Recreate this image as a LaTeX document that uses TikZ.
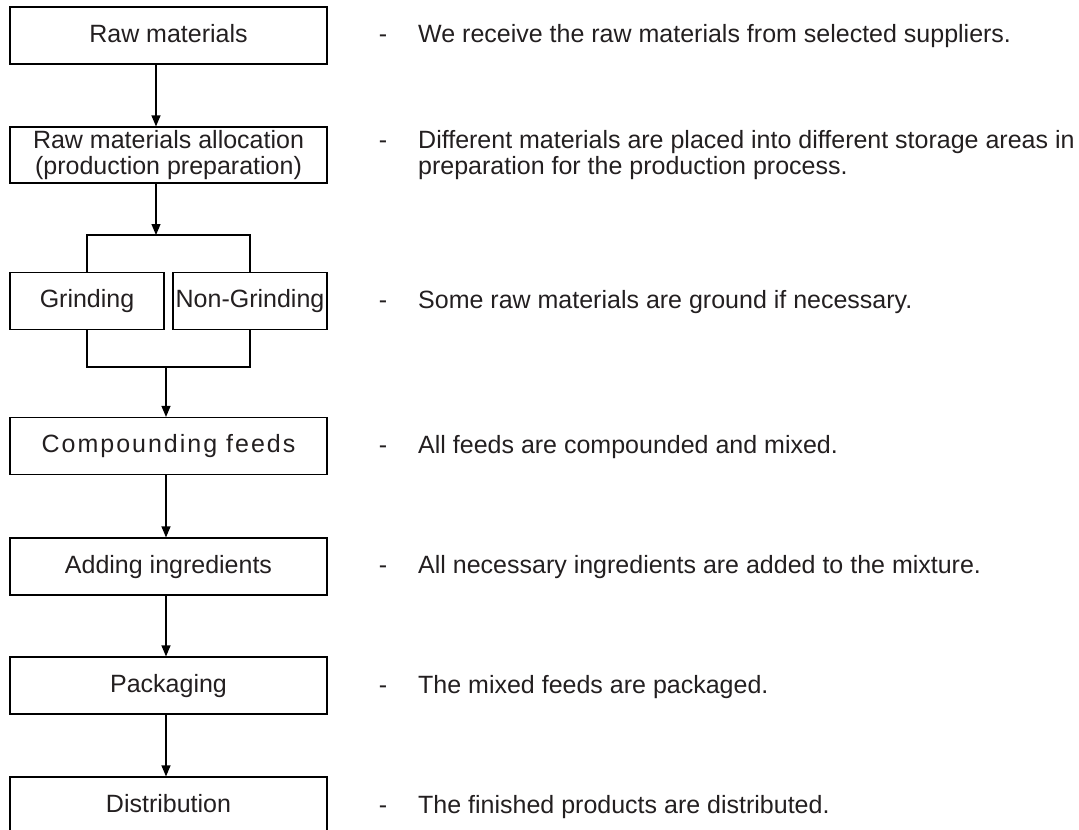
\documentclass[tikz,border=0pt]{standalone}
\usepackage{fontspec}
\setmainfont{Liberation Sans}
\usetikzlibrary{arrows.meta}
\definecolor{ink}{RGB}{35,31,32}
\tikzset{
  box/.style={draw=black, line width=1.2pt, minimum width=317pt, minimum height=57pt,
    inner sep=0pt, text height=18pt, text depth=5pt, text=ink,
    font=\fontsize{25pt}{26pt}\selectfont},
  smallbox/.style={box, minimum width=154pt},
  twobox/.style={draw=black, line width=1.2pt, minimum width=317pt, minimum height=56pt,
    inner sep=0pt, align=center, text=ink, font=\fontsize{25pt}{26pt}\selectfont},
  desc/.style={anchor=base west, inner sep=0pt, text=ink, font=\fontsize{25pt}{26pt}\selectfont},
  bullet/.style={anchor=base, inner sep=0pt, text=ink, font=\fontsize{25pt}{26pt}\selectfont},
  arr/.style={line width=1.2pt, -{Triangle[width=9pt,length=11pt]}},
  ln/.style={line width=1.2pt},
}
\begin{document}
\begin{tikzpicture}[x=1pt,y=-1pt]
\useasboundingbox (0,0) rectangle (1079,830);
\clip (0,0) rectangle (1079,830);
% boxes
\node[box] (raw) at (168.5,35.5) {Raw materials};
\node[twobox] (alloc) at (168.5,155) {Raw materials allocation\\(production preparation)};
\node[smallbox] (grind) at (87,301) {Grinding};
\node[smallbox] (nongrind) at (250,301) {Non-Grinding};
\node[box] (comp) at (168.5,446) {\addfontfeature{LetterSpace=8}Compounding feeds};
\node[box] (add) at (168.5,566.5) {Adding ingredients};
\node[box] (pack) at (168.5,685.5) {Packaging};
\node[box] (dist) at (168.5,805.5) {Distribution};
% connectors
\coordinate (a1) at (156,0);
\coordinate (a2) at (166,0);
\coordinate (bt) at (156,235);
\coordinate (bb) at (166,367);
\draw[arr] (raw.south -| a1) -- (alloc.north -| a1);
\draw[arr] (alloc.south -| a1) -- (bt);
\draw[ln] (grind.north) |- (bt) -| (nongrind.north);
\draw[ln] (grind.south) |- (bb) -| (nongrind.south);
\draw[arr] (bb) -- (comp.north -| a2);
\draw[arr] (comp.south -| a2) -- (add.north -| a2);
\draw[arr] (add.south -| a2) -- (pack.north -| a2);
\draw[arr] (pack.south -| a2) -- (dist.north -| a2);
% descriptions
\node[bullet] (h1) at (383,42) {-};
\node[desc] (t1) at (418,42) {We receive the raw materials from selected suppliers.};
\node[bullet] (h2) at (383,148) {-};
\node[desc] (t2) at (418,148) {Different materials are placed into different storage areas in};
\node[desc] (t2b) at (418,174) {preparation for the production process.};
\node[bullet] (h3) at (383,308) {-};
\node[desc] (t3) at (418,308) {Some raw materials are ground if necessary.};
\node[bullet] (h4) at (383,453) {-};
\node[desc] (t4) at (418,453) {All feeds are compounded and mixed.};
\node[bullet] (h5) at (383,573) {-};
\node[desc] (t5) at (418,573) {All necessary ingredients are added to the mixture.};
\node[bullet] (h6) at (383,693) {-};
\node[desc] (t6) at (418,693) {The mixed feeds are packaged.};
\node[bullet] (h7) at (383,813) {-};
\node[desc] (t7) at (418,813) {The finished products are distributed.};
\end{tikzpicture}
\end{document}
